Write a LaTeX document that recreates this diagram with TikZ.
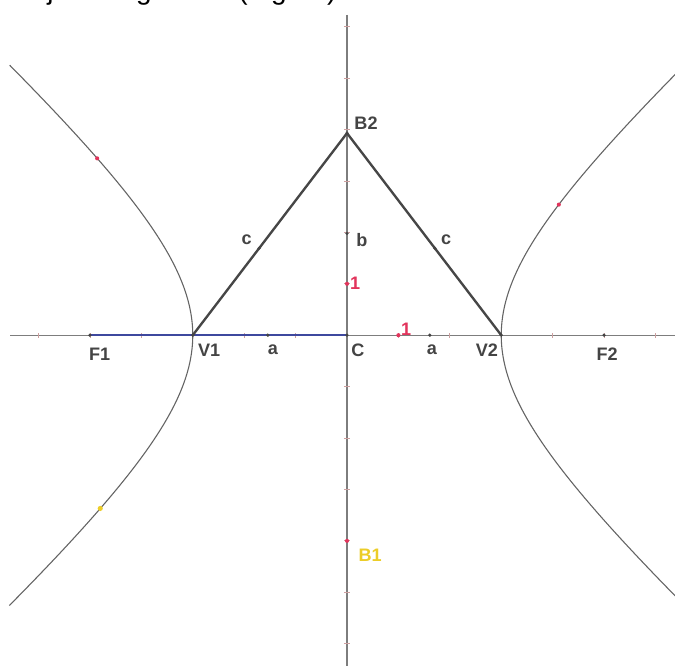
\documentclass[tikz,border=0pt]{standalone}
\usepackage{fontspec}
\setmainfont{Liberation Sans}
\usetikzlibrary{calc}
\definecolor{cAxis}{RGB}{125,125,125}
\definecolor{cCurve}{RGB}{100,100,100}
\definecolor{cSide}{RGB}{70,70,70}
\definecolor{cBlue}{RGB}{62,72,158}
\definecolor{cRed}{RGB}{226,52,92}
\definecolor{cYellow}{RGB}{236,205,40}
\definecolor{cLabel}{RGB}{68,68,68}
\definecolor{cTick}{RGB}{205,160,160}
\tikzset{
	axisline/.style={cAxis, line width=0.6pt},
	branch/.style={cCurve, line width=0.6pt},
	side/.style={cSide, line width=1.3pt, line cap=round},
	major/.style={cBlue, line width=1.3pt},
	tickmark/.style={cTick, line width=0.5pt},
	lbl/.style={font=\fontsize{10}{12}\selectfont\bfseries, text=cLabel, inner sep=0pt},
	unitlbl/.style={font=\fontsize{10}{12}\selectfont\bfseries, text=cRed, inner sep=0pt},
	dot/.style={fill=cLabel},
	reddot/.style={fill=cRed},
}
\begin{document}
\begin{tikzpicture}
	\useasboundingbox (-6.75,-6.44) rectangle (6.38,6.52);
	\fill[white] (-6.75,-6.44) rectangle (6.38,6.52);
	% heading line, cut off by the top edge
	\node[anchor=base west, inner sep=0pt, font=\fontsize{15.5}{18}\selectfont] (head) at (-6.56,6.52) {Object diagram};
	\node[anchor=base west, inner sep=0pt, font=\fontsize{15.5}{18}\selectfont] (headfig) at (-2.12,6.52) {(Figure)};
	% points
	\coordinate (C) at (0,0);
	\coordinate (F1) at (-5,0);
	\coordinate (F2) at (5,0);
	\coordinate (V1) at (-3,0);
	\coordinate (V2) at (3,0);
	\coordinate (B2) at (0,3.93);
	\coordinate (B1) at (0,-4);
	\coordinate (bPt) at (0,1.98);
	\coordinate (aL) at (-1.54,0);
	\coordinate (aR) at (1.61,0);
	\coordinate (uX) at (1,0);
	\coordinate (uY) at (0,1);
	\coordinate (xl) at (-6.55,0);
	\coordinate (xr) at (6.38,0);
	\coordinate (yt) at (0,6.23);
	\coordinate (yb) at (0,-6.44);
	% axes and unit ticks
	\draw[axisline] (xl) -- (xr);
	\draw[axisline] (yt) -- (yb);
	\foreach \k in {-6,...,-1,1,2,...,6} {
		\draw[tickmark] (\k,-0.05) -- (\k,0.05);
		\draw[tickmark] (-0.05,\k) -- (0.05,\k);
	}
	% the two branches
	\draw[branch] plot[domain=-1.42:1.42, samples=80, smooth, variable=\t] ({-3*cosh(\t)},{2.7*sinh(\t)});
	\draw[branch] plot[domain=-1.39:1.39, samples=80, smooth, variable=\t] ({3*cosh(\t)},{2.7*sinh(\t)});
	% segment and triangle
	\draw[major] (F1) -- (C);
	\draw[side] (V1) -- (B2) -- (V2);
	\coordinate (cL) at ($(V1)!0.43!(B2)$);
	\coordinate (cR) at ($(V2)!0.43!(B2)$);
	\foreach \p in {F1,F2,V1,V2,C,B2,bPt,aL,aR,cL,cR}
		\fill[dot] (\p) circle (0.035);
	\foreach \p in {B1,uX,uY}
		\fill[reddot] (\p) circle (0.04);
	\fill[reddot] (-4.86,3.44) circle (0.04);
	\fill[reddot] (4.12,2.54) circle (0.04);
	\fill[cYellow] (-4.8,-3.37) circle (0.05);
	% labels
	\node[lbl] (lF1) at (-4.81,-0.37) {F1};
	\node[lbl] (lV1) at (-2.68,-0.29) {V1};
	\node[lbl] (laL) at (-1.44,-0.29) {a};
	\node[lbl] (lC) at (0.21,-0.29) {C};
	\node[lbl] (laR) at (1.65,-0.29) {a};
	\node[lbl] (lV2) at (2.72,-0.29) {V2};
	\node[lbl] (lF2) at (5.06,-0.37) {F2};
	\node[lbl] (lB2) at (0.37,4.12) {B2};
	\node[lbl] (lb) at (0.29,1.85) {b};
	\node[lbl] (lcL) at (-1.95,1.85) {c};
	\node[lbl] (lcR) at (1.93,1.85) {c};
	\node[unitlbl] (l1y) at (0.16,1.01) {1};
	\node[unitlbl] (l1x) at (1.15,0.12) {1};
	\node[lbl, text=cYellow] (lB1) at (0.45,-4.28) {B1};
\end{tikzpicture}
\end{document}
